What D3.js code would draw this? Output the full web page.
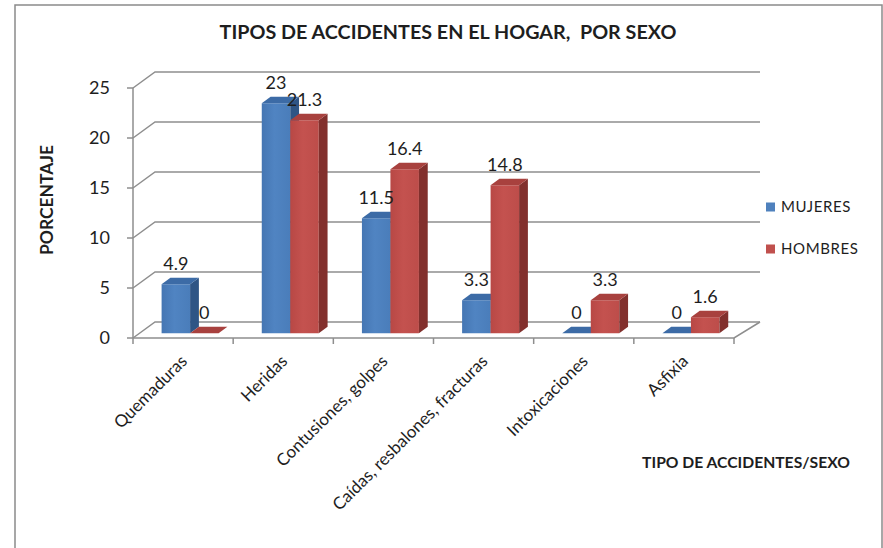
<!DOCTYPE html>
<html><head><meta charset="utf-8">
<script src="https://cdn.jsdelivr.net/npm/d3@7"></script>
<style>
html,body{margin:0;padding:0;background:#fff;}
text{font-family:Lato,"Open Sans",sans-serif;fill:#1e1e1e;white-space:pre;}
</style></head>
<body>
<svg id="chart" width="883" height="548"></svg>
<script>
const categories = ["Quemaduras","Heridas","Contusiones, golpes","Caídas, resbalones, fracturas","Intoxicaciones","Asfixia"];
const seriesNames = ["MUJERES","HOMBRES"];
const mujeres = [4.9,23,11.5,3.3,0,0];
const hombres = [0,21.3,16.4,14.8,3.3,1.6];
const yTicks = [0,5,10,15,20,25];
const titleText = "TIPOS DE ACCIDENTES EN EL HOGAR,  POR SEXO";
const yTitle = "PORCENTAJE";
const xTitle = "TIPO DE ACCIDENTES/SEXO";

const svg = d3.select("#chart");
const DX = 22, DY = 16;      // depth offset of the 3D box
const Z0 = 0.3, Z1 = 0.7;    // bar depth range

const x = d3.scaleBand().domain(categories).range([133, 734]);
const sub = d3.scaleBand().domain(seriesNames).range([22, 79]);
const y = d3.scaleLinear().domain([0, 25]).range([338, 88]);
const P = (px, v, z) => [px + z * DX, y(v) - z * DY];

const series = [
  {name: "MUJERES", values: mujeres, front: "url(#gBlue)", top: "#3c6ba6", side: "#2f5585", legend: "#4f81bd"},
  {name: "HOMBRES", values: hombres, front: "url(#gRed)", top: "#a8413e", side: "#82302d", legend: "#c0504d"}
];

const defs = svg.append("defs");
function grad(id, c1, c2, c3) {
  const g = defs.append("linearGradient").attr("id", id).attr("x1", "0").attr("x2", "1").attr("y1", "0").attr("y2", "0");
  g.append("stop").attr("offset", "0").attr("stop-color", c1);
  g.append("stop").attr("offset", "0.45").attr("stop-color", c2);
  g.append("stop").attr("offset", "1").attr("stop-color", c3);
}
grad("gBlue", "#4576b3", "#5084c2", "#4a7dba");
grad("gRed", "#b84845", "#c4524f", "#bd4d4a");

// outer border
svg.append("rect").attr("x", 15).attr("y", 5).attr("width", 867).attr("height", 600)
  .attr("fill", "none").attr("stroke", "#8a8a8a").attr("stroke-width", 1.5);

const line = d3.line();
const gridColor = "#8e8e8e";
const x0 = x.range()[0], x1 = x.range()[1];

const grid = svg.append("g").attr("fill", "none").attr("stroke", gridColor).attr("stroke-width", 1.5);
yTicks.forEach(t => {
  grid.append("path").attr("d", line([P(x0, t, 0), P(x0, t, 1), [x1 + DX + 4, y(t) - DY]]));
});
grid.append("path").attr("d", line([P(x0, 0, 0), P(x1, 0, 0), P(x1 + 4, 0, 1)]));
grid.append("path").attr("d", line([P(x0, 0, 0), P(x0, 25, 0)]));
yTicks.forEach(t => grid.append("path").attr("d", line([[x0 - 6, y(t)], [x0, y(t)]])));
d3.range(categories.length + 1).forEach(i => {
  const px = x0 + i * x.bandwidth();
  grid.append("path").attr("d", line([[px, y(0)], [px, y(0) + 6]]));
});

svg.append("g").selectAll("text").data(yTicks).join("text")
  .attr("x", 110).attr("y", d => y(d)).attr("dy", "0.35em").attr("text-anchor", "end")
  .attr("font-size", 18).text(d => d);

const bars = svg.append("g");
categories.forEach((c, i) => {
  series.forEach(s => {
    const v = s.values[i];
    const L = x(c) + sub(s.name), R = L + sub.bandwidth();
    const g = bars.append("g");
    g.append("path").attr("fill", s.front)
      .attr("d", line([P(L, 0, Z0), P(R, 0, Z0), P(R, v, Z0), P(L, v, Z0)]) + "Z");
    g.append("path").attr("fill", s.side)
      .attr("d", line([P(R, 0, Z0), P(R, 0, Z1), P(R, v, Z1), P(R, v, Z0)]) + "Z");
    g.append("path").attr("fill", s.top)
      .attr("d", line([P(L, v, Z0), P(R, v, Z0), P(R, v, Z1), P(L, v, Z1)]) + "Z");
  });
});

const lab = svg.append("g");
categories.forEach((c, i) => {
  series.forEach(s => {
    const v = s.values[i];
    const L = x(c) + sub(s.name), R = L + sub.bandwidth();
    const p = P((L + R) / 2, v, Z0);
    lab.append("text").attr("x", p[0]).attr("y", p[1] - 21).attr("dy", "0.35em")
      .attr("text-anchor", "middle").attr("font-size", 18).text(v);
  });
});

svg.append("g").selectAll("text").data(categories).join("text")
  .attr("transform", d => `translate(${x(d) + x.bandwidth() / 2 + 1},${358}) rotate(-45)`)
  .attr("text-anchor", "end").attr("dy", "0.35em").attr("font-size", 17).text(d => d);

function fit(sel, target) {
  const w = sel.node().getComputedTextLength();
  const fs = parseFloat(sel.attr("font-size"));
  sel.attr("font-size", fs * target / w);
}

const tt = svg.append("text").attr("x", 448).attr("y", 39).attr("text-anchor", "middle")
  .attr("font-weight", "bold").attr("font-size", 17).text(titleText);
fit(tt, 457);

const yt = svg.append("text").attr("transform", "translate(47,200) rotate(-90)")
  .attr("text-anchor", "middle").attr("dy", "0.35em").attr("font-weight", "bold").attr("font-size", 16).text(yTitle);
fit(yt, 110);

const xt = svg.append("text").attr("x", 746).attr("y", 468).attr("text-anchor", "middle")
  .attr("font-weight", "bold").attr("font-size", 15).text(xTitle);
fit(xt, 208);

const leg = svg.append("g");
series.forEach((s, i) => {
  const cy = 207 + i * 42;
  leg.append("rect").attr("x", 766).attr("y", cy - 4.5).attr("width", 9).attr("height", 9).attr("fill", s.legend);
  leg.append("text").attr("x", 781).attr("y", cy).attr("dy", "0.35em").attr("font-size", 15)
    .attr("letter-spacing", 0.6).text(s.name);
});
</script>
</body></html>
